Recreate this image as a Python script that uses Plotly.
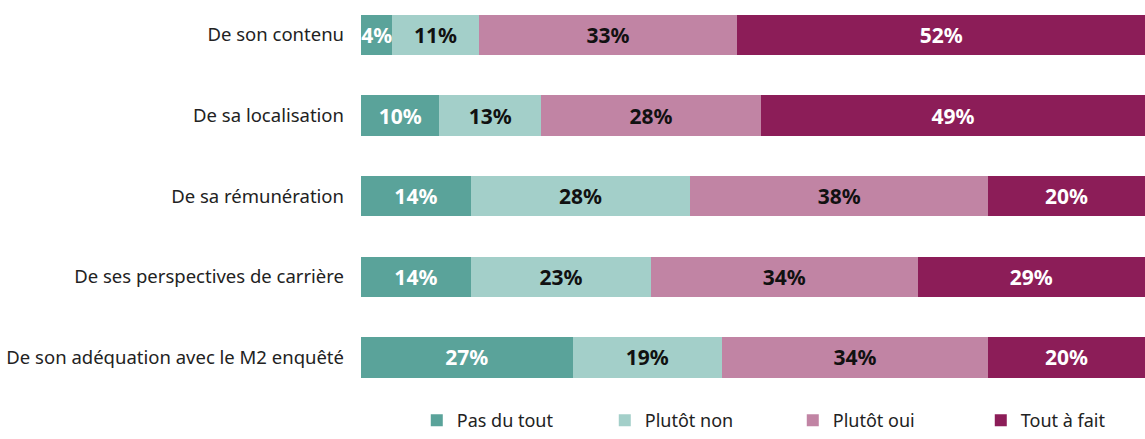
import plotly.graph_objects as go

categories = [
    "De son contenu",
    "De sa localisation",
    "De sa rémunération",
    "De ses perspectives de carrière",
    "De son adéquation avec le M2 enquêté",
]
series_names = ["Pas du tout", "Plutôt non", "Plutôt oui", "Tout à fait"]
pas_du_tout = [4, 10, 14, 14, 27]
plutot_non = [11, 13, 28, 23, 19]
plutot_oui = [33, 28, 38, 34, 34]
tout_a_fait = [52, 49, 20, 29, 20]

values = [pas_du_tout, plutot_non, plutot_oui, tout_a_fait]
colors = ["#5aa39a", "#a3cfc9", "#c184a4", "#8c1d58"]
text_colors = ["white", "#111111", "#111111", "white"]

ypos = list(range(len(categories)))

fig = go.Figure()
for name, vals, col, tcol in zip(series_names, values, colors, text_colors):
    fig.add_trace(go.Bar(
        name=name, x=vals, y=ypos, orientation="h",
        marker=dict(color=col, line=dict(width=0)),
        width=0.5,
        text=[f"{v}%" for v in vals],
        textposition="inside", insidetextanchor="middle",
        textangle=0, constraintext="none", cliponaxis=False,
        textfont=dict(family="Noto Sans", size=21, color=tcol, weight="bold"),
        hoverinfo="skip",
    ))

fig.update_layout(
    barmode="stack",
    width=1145, height=439,
    margin=dict(l=361, r=0, t=0, b=47, autoexpand=False),
    paper_bgcolor="white", plot_bgcolor="white",
    font=dict(family="Noto Sans", size=17, color="#222222"),
    uniformtext=dict(minsize=21, mode="show"),
    xaxis=dict(range=[0, 100], visible=False, showgrid=False, zeroline=False, automargin=False),
    yaxis=dict(range=[4.428, -0.434], tickvals=ypos, ticktext=categories,
               showgrid=False, zeroline=False, ticks="", ticklabelstandoff=16,
               automargin=False,
               tickfont=dict(family="Noto Sans", size=18.5, color="#222222")),
    legend=dict(orientation="h", xref="container", yref="container",
                x=0.364, xanchor="left", y=0.0, yanchor="bottom",
                entrywidth=143, entrywidthmode="pixels", traceorder="normal",
                borderwidth=0,
                font=dict(family="Noto Sans", size=18, color="#222222"),
                itemwidth=30),
    showlegend=True,
)

fig.write_html("out.html", config={"displayModeBar": False},
               post_script="document.body.style.margin='0';document.body.style.padding='0';")
